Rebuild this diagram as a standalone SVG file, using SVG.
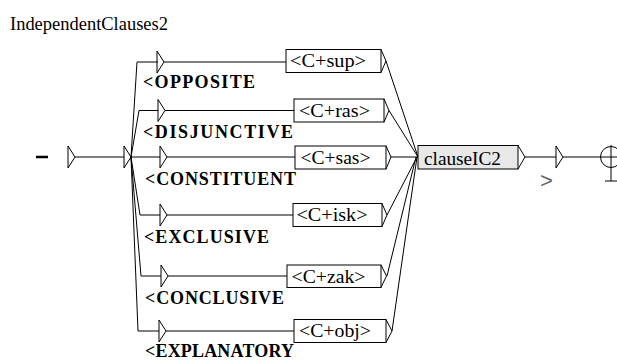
<svg xmlns="http://www.w3.org/2000/svg" width="617" height="361" viewBox="0 0 617 361">
<style>
.ln{fill:none;stroke:#000;stroke-width:1}
.box{fill:#fff;stroke:#000;stroke-width:1}
.bt{font-family:'Liberation Serif','Times New Roman',serif;font-size:19px;fill:#000}
.lab{font-family:'Liberation Serif','Times New Roman',serif;font-size:18px;font-weight:bold;fill:#000}
.title{font-family:'Liberation Serif','Times New Roman',serif;font-size:18px;fill:#000}
</style>
<defs>
<path id="arr" d="M0,-11 V11 L7,0 Z" fill="none" stroke="#000"/>
</defs>
<rect width="617" height="361" fill="#fff"/>
<text class="title" x="10" y="30" textLength="158" lengthAdjust="spacingAndGlyphs">IndependentClauses2</text>

<g id="connectors" class="ln">
<path d="M75,157 H124"/>
<path d="M131,157 H160"/>
<path d="M131,157 L137,62 H158"/>
<path d="M131,157 L139,110.5 H158"/>
<path d="M131,157 L140,215 H160"/>
<path d="M131,157 L141,276 H161"/>
<path d="M131,157 L138,331 H159"/>
<path d="M164,62 H286"/>
<path d="M165,110.5 H294"/>
<path d="M167,157 H295"/>
<path d="M167,215 H293"/>
<path d="M168,276 H287"/>
<path d="M166,331 H294"/>
<path d="M386,61 L418,157"/>
<path d="M389,110.5 L418,157"/>
<path d="M391,157 H418"/>
<path d="M387,215 L417,157"/>
<path d="M387,276 L416,157"/>
<path d="M392,331 L417,157"/>
<path d="M525,157 H556"/>
<path d="M563,157 H621"/>
</g>

<g id="init">
<line x1="36" y1="157" x2="48" y2="157" stroke="#000" stroke-width="2.5"/>
<use href="#arr" x="68" y="157"/>
</g>
<g id="eps">
<use href="#arr" x="124" y="157"/>
</g>

<g id="opposite">
<use href="#arr" x="157" y="62"/>
<text class="lab" x="143" y="88" textLength="112" lengthAdjust="spacing">&lt;OPPOSITE</text>
</g>
<g id="disjunctive">
<use href="#arr" x="158" y="110.5"/>
<text class="lab" x="143" y="138" textLength="150" lengthAdjust="spacing">&lt;DISJUNCTIVE</text>
</g>
<g id="constituent">
<use href="#arr" x="160" y="157"/>
<text class="lab" x="145" y="185" textLength="151" lengthAdjust="spacing">&lt;CONSTITUENT</text>
</g>
<g id="exclusive">
<use href="#arr" x="160" y="215"/>
<text class="lab" x="144" y="243" textLength="125" lengthAdjust="spacing">&lt;EXCLUSIVE</text>
</g>
<g id="conclusive">
<use href="#arr" x="161" y="276"/>
<text class="lab" x="145" y="304" textLength="139" lengthAdjust="spacing">&lt;CONCLUSIVE</text>
</g>
<g id="explanatory">
<use href="#arr" x="159" y="331"/>
<text class="lab" x="145" y="357" textLength="149" lengthAdjust="spacing">&lt;EXPLANATORY</text>
</g>

<g id="sup">
<rect class="box" x="286" y="49.5" width="95" height="23"/>
<path class="ln" d="M381,49.5 L386,61 L381,72.5"/>
<text class="bt" x="290" y="67" textLength="76" lengthAdjust="spacingAndGlyphs">&lt;C+sup&gt;</text>
</g>
<g id="ras">
<rect class="box" x="294" y="99" width="90" height="23"/>
<path class="ln" d="M384,99 L389,110.5 L384,122"/>
<text class="bt" x="299" y="116.5" textLength="71" lengthAdjust="spacingAndGlyphs">&lt;C+ras&gt;</text>
</g>
<g id="sas">
<rect class="box" x="295" y="146" width="91" height="23"/>
<path class="ln" d="M386,146 L391,157 L386,169"/>
<text class="bt" x="300.5" y="163.5" textLength="70" lengthAdjust="spacingAndGlyphs">&lt;C+sas&gt;</text>
</g>
<g id="isk">
<rect class="box" x="293" y="203.5" width="89" height="23"/>
<path class="ln" d="M382,203.5 L387,215 L382,226.5"/>
<text class="bt" x="296.5" y="221" textLength="71" lengthAdjust="spacingAndGlyphs">&lt;C+isk&gt;</text>
</g>
<g id="zak">
<rect class="box" x="287" y="265" width="94" height="22.5"/>
<path class="ln" d="M381,265 L386.5,276 L381,287.5"/>
<text class="bt" x="291.5" y="282.5" textLength="74" lengthAdjust="spacingAndGlyphs">&lt;C+zak&gt;</text>
</g>
<g id="obj">
<rect class="box" x="294" y="319.5" width="92" height="23"/>
<path class="ln" d="M386,319.5 L392,331 L386,342.5"/>
<text class="bt" x="299" y="337" textLength="72" lengthAdjust="spacingAndGlyphs">&lt;C+obj&gt;</text>
</g>

<g id="clauseIC2">
<rect x="418" y="145.5" width="100" height="23.5" fill="#e8e8e8" stroke="#000"/>
<path class="ln" d="M518,145.5 L525,157 L518,169"/>
<text class="bt" x="424" y="164.5" textLength="77" lengthAdjust="spacingAndGlyphs">clauseIC2</text>
</g>

<g id="out">
<use href="#arr" x="556" y="157"/>
<text x="540" y="188" font-family="'Liberation Sans',sans-serif" font-size="22" fill="#666">&gt;</text>
</g>

<g id="final">
<circle cx="611" cy="157" r="10.5" fill="none" stroke="#000"/>
<line x1="611" y1="145" x2="611" y2="181" stroke="#000"/>
<line x1="605" y1="181" x2="617" y2="181" stroke="#000"/>
</g>
</svg>
